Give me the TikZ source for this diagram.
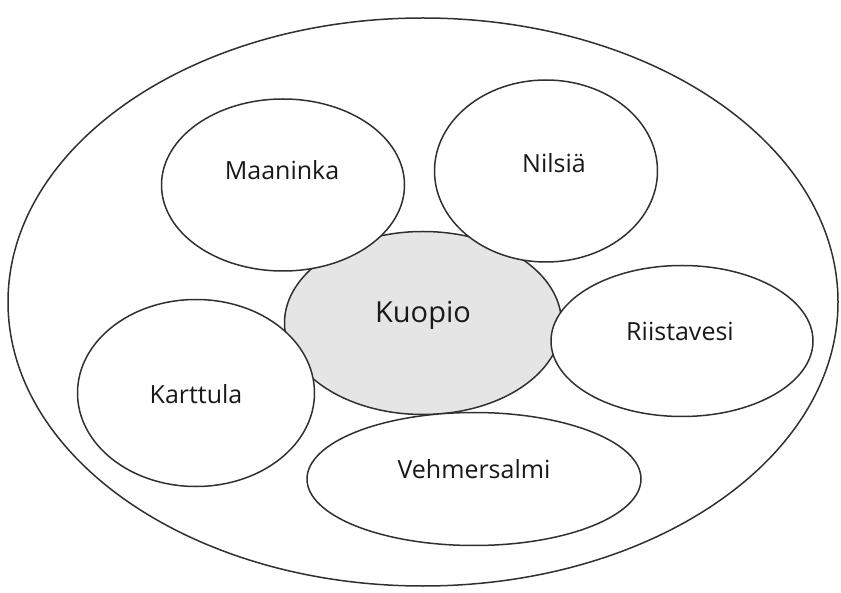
\documentclass[tikz,border=0pt]{standalone}
\usepackage{fontspec}
\setmainfont{Open Sans}
\usepackage{tikz}
\usetikzlibrary{
  shapes.geometric,
  positioning
}
\definecolor{kuGray}{HTML}{E5E5E5}
\definecolor{kuLine}{HTML}{303030}
\tikzset{
  town/.style={
    draw=kuLine, ellipse, fill=white, line width=1.5pt, inner sep=0pt
  },
  centre/.style={town, fill=kuGray},
  region/.style={town, fill=none},
  townname/.style={font=\fontsize{25}{30}\selectfont, text=black!90, inner sep=0pt},
  centrename/.style={townname, font=\fontsize{29}{34}\selectfont}
}

\begin{document}
\begin{tikzpicture}[x=1pt, y=-1pt]
  \useasboundingbox (0,0) rectangle (841,593);
  \node[region, minimum width=830, minimum height=568] (reg) at (423,302) {};
  \node[centre, minimum width=277, minimum height=183] (kuo) at (423,323) {};
  \node[town, minimum width=243, minimum height=172] (maa) at (283,185) {};
  \node[town, minimum width=223, minimum height=182] (nil) at (546,171) {};
  \node[town, minimum width=262, minimum height=151] (rii) at (682,341) {};
  \node[town, minimum width=237, minimum height=187] (kar) at (196,393) {};
  \node[town, minimum width=334, minimum height=133] (veh) at (474,479) {};
  % names
  \node[centrename] (kuo-t) at (423,315) {Kuopio};
  \node[townname] (maa-t) at (282,170) {Maaninka};
  \node[townname] (nil-t) at (554,163) {Nilsiä};
  \node[townname] (rii-t) at (680,331) {Riistavesi};
  \node[townname] (kar-t) at (196,394) {Karttula};
  \node[townname] (veh-t) at (474,469) {Vehmersalmi};
\end{tikzpicture}
\end{document}
